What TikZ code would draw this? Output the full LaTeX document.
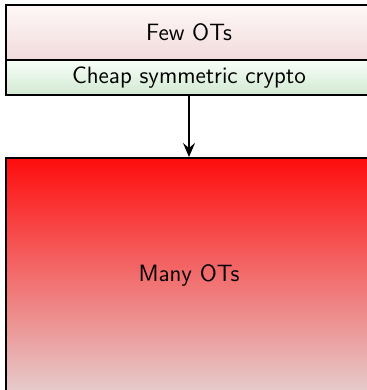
\documentclass[tikz,border=0pt]{standalone}
\usetikzlibrary{arrows.meta}
\begin{document}
\begin{tikzpicture}[x=0.5pt,y=-0.5pt,
  font=\sffamily\fontsize{11.8}{14}\selectfont,
  block/.style={draw=black,line width=1pt,rectangle,inner sep=0pt},
  link/.style={draw=black,line width=0.8pt,-{Stealth[length=7pt,width=6pt,inset=2.5pt]}}]
\useasboundingbox (0,0) rectangle (367,390);
\clip (0,0) rectangle (367,390);
% protocol stages
\node[block,minimum width=183pt,minimum height=27.5pt,
      top color=red!3!white,bottom color=red!60!black!14!white] (few) at (189,32.5) {Few OTs};
\node[block,minimum width=183pt,minimum height=17.5pt,
      top color=green!3!white,bottom color=green!50!black!18!white] (sym) at (189,77.5) {Cheap symmetric crypto};
\node[block,minimum width=183pt,minimum height=117pt,
      top color=red!95!white,bottom color=red!50!black!20!white] (many) at (189,275) {Many OTs};
\draw[link] (sym.south) -- (many.north);
\end{tikzpicture}
\end{document}
